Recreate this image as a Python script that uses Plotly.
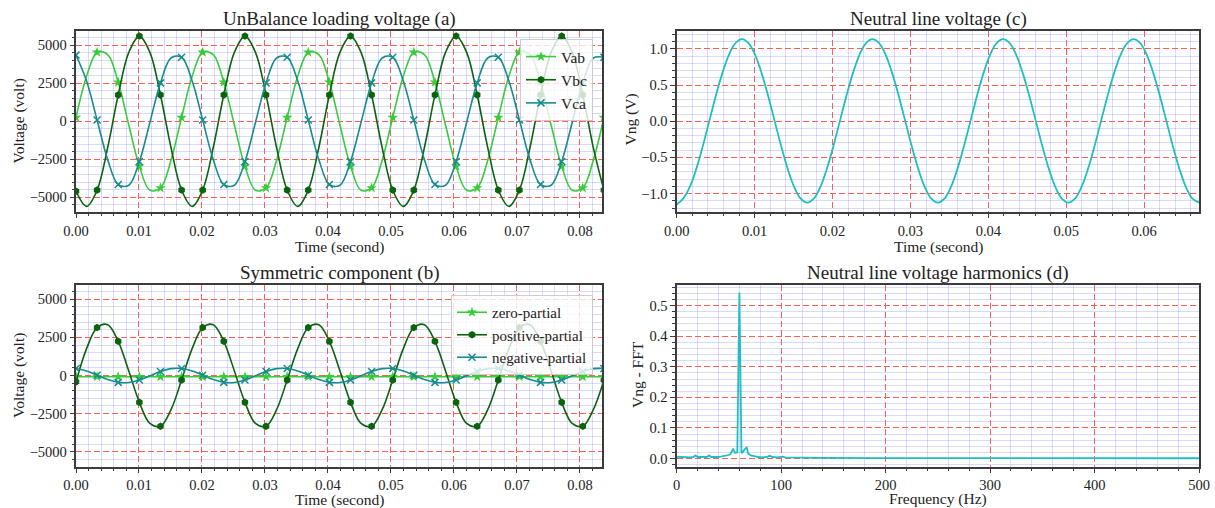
import plotly.graph_objects as go

# ---------------- data ----------------
T = [0.0, 0.00168, 0.00335, 0.00503, 0.0067, 0.00838, 0.01006, 0.01173, 0.01341, 0.01508,
     0.01676, 0.01844, 0.02011, 0.02179, 0.02346, 0.02514, 0.02682, 0.02849, 0.03017, 0.03184,
     0.03352, 0.0352, 0.03687, 0.03855, 0.04022, 0.0419, 0.04358, 0.04525, 0.04693, 0.0486,
     0.05028, 0.05196, 0.05363, 0.05531, 0.05698, 0.05866, 0.06034, 0.06201, 0.06369, 0.06536,
     0.06704, 0.06872, 0.07039, 0.07207, 0.07374, 0.07542, 0.0771, 0.07877, 0.08045, 0.08212,
     0.0838]

vab = [246, 2958, 4540, 4388, 2560, -246, -2958, -4540, -4388, -2560,
       246, 2958, 4540, 4388, 2560, -246, -2958, -4540, -4388, -2560,
       246, 2958, 4540, 4388, 2560, -246, -2958, -4540, -4388, -2560,
       246, 2958, 4540, 4388, 2560, -246, -2958, -4540, -4388, -2560,
       246, 2958, 4540, 4388, 2560, -246, -2958, -4540, -4388, -2560,
       246]
vbc = [-4600, -5600, -4530, -1730, 1730, 4530, 5600, 4530, 1730, -1730,
       -4530, -5600, -4530, -1730, 1730, 4530, 5600, 4530, 1730, -1730,
       -4530, -5600, -4530, -1730, 1730, 4530, 5600, 4530, 1730, -1730,
       -4530, -5600, -4530, -1730, 1730, 4530, 5600, 4530, 1730, -1730,
       -4530, -5600, -4530, -1730, 1730, 4530, 5600, 4530, 1730, -1730,
       -4530]
vca = [4350, 2648, 77, -2524, -4160, -4208, -2648, -77, 2524, 4160,
       4208, 2648, 77, -2524, -4160, -4208, -2648, -77, 2524, 4160,
       4208, 2648, 77, -2524, -4160, -4208, -2648, -77, 2524, 4160,
       4208, 2648, 77, -2524, -4160, -4208, -2648, -77, 2524, 4160,
       4208, 2648, 77, -2524, -4160, -4208, -2648, -77, 2524, 4160,
       4208]

zero_part = [-80, -82, -78, -80, -84, -80, -76, -80, -82, -80,
             -78, -80, -84, -80, -76, -80, -82, -80, -78, -80,
             -84, -80, -76, -80, -82, -80, -78, -80, -84, -80,
             -76, -80, -82, -80, -78, -80, -84, -80, -76, -80,
             -82, -80, -78, -80, -84, -80, -76, -80, -82, -80,
             -78]
pos_part = [-420, 1761, 3148, 3332, 2244, 298, -1761, -3148, -3332, -2244,
            -298, 1761, 3148, 3332, 2244, 298, -1761, -3148, -3332, -2244,
            -298, 1761, 3148, 3332, 2244, 298, -1761, -3148, -3332, -2244,
            -298, 1761, 3148, 3332, 2244, 298, -1761, -3148, -3332, -2244,
            -298, 1761, 3148, 3332, 2244, 298, -1761, -3148, -3332, -2244,
            -298]
neg_part = [461, 296, 17, -268, -451, -461, -296, -17, 268, 451,
            461, 296, 17, -268, -451, -461, -296, -17, 268, 451,
            461, 296, 17, -268, -451, -461, -296, -17, 268, 451,
            461, 296, 17, -268, -451, -461, -296, -17, 268, 451,
            461, 296, 17, -268, -451, -461, -296, -17, 268, 451,
            461]

T_ng = [0.0, 0.00084, 0.00168, 0.00251, 0.00335, 0.00419, 0.00503, 0.00587, 0.0067, 0.00754,
        0.00838, 0.00922, 0.01006, 0.01089, 0.01173, 0.01257, 0.01341, 0.01425, 0.01508, 0.01592,
        0.01676, 0.0176, 0.01844, 0.01927, 0.02011, 0.02095, 0.02179, 0.02263, 0.02346, 0.0243,
        0.02514, 0.02598, 0.02682, 0.02765, 0.02849, 0.02933, 0.03017, 0.03101, 0.03184, 0.03268,
        0.03352, 0.03436, 0.0352, 0.03603, 0.03687, 0.03771, 0.03855, 0.03939, 0.04022, 0.04106,
        0.0419, 0.04274, 0.04358, 0.04441, 0.04525, 0.04609, 0.04693, 0.04777, 0.0486, 0.04944,
        0.05028, 0.05112, 0.05196, 0.05279, 0.05363, 0.05447, 0.05531, 0.05615, 0.05698, 0.05782,
        0.05866, 0.0595, 0.06034, 0.06117, 0.06201, 0.06285, 0.06369, 0.06453, 0.06536, 0.0662,
        0.06704]
vng = [-1.15, -1.070, -0.909, -0.659, -0.344, 0.005, 0.354, 0.669, 0.919, 1.080,
       1.135, 1.080, 0.919, 0.669, 0.354, 0.005, -0.344, -0.659, -0.909, -1.070,
       -1.125, -1.070, -0.909, -0.659, -0.344, 0.005, 0.354, 0.669, 0.919, 1.080,
       1.135, 1.080, 0.919, 0.669, 0.354, 0.005, -0.344, -0.659, -0.909, -1.070,
       -1.125, -1.070, -0.909, -0.659, -0.344, 0.005, 0.354, 0.669, 0.919, 1.080,
       1.135, 1.080, 0.919, 0.669, 0.354, 0.005, -0.344, -0.659, -0.909, -1.070,
       -1.125, -1.070, -0.909, -0.659, -0.344, 0.005, 0.354, 0.669, 0.919, 1.080,
       1.135, 1.080, 0.919, 0.669, 0.354, 0.005, -0.344, -0.659, -0.909, -1.070,
       -1.125]

fft_freq = [0, 2, 4, 7, 10, 13, 16, 18, 20, 23, 26, 29, 31, 33, 36, 39, 42, 45, 48, 51,
            54, 56, 58, 60, 62, 63.5, 65, 67, 68.5, 71, 74, 78, 82, 86, 89, 92, 96, 101,
            104, 110, 120, 130, 140, 200, 300, 400, 500]
fft_val = [0.004, 0.006, 0.005, 0.004, 0.005, 0.004, 0.005, 0.010, 0.005, 0.004,
           0.005, 0.005, 0.010, 0.005, 0.004, 0.005, 0.006, 0.007, 0.010, 0.013,
           0.030, 0.018, 0.020, 0.543, 0.018, 0.022, 0.030, 0.036, 0.016, 0.010,
           0.007, 0.005, 0.004, 0.005, 0.009, 0.005, 0.004, 0.006, 0.004, 0.004,
           0.003, 0.003, 0.002, 0.0015, 0.0012, 0.001, 0.001]

series_a = ["Vab", "Vbc", "Vca"]
series_b = ["zero-partial", "positive-partial", "negative-partial"]

# ---------------- styling ----------------
W, H = 1215, 508
FONT = "Liberation Serif"
TXT = "#222222"
C_LIGHT = "#38cc38"
C_DARK = "#0b630b"
C_TEAL = "#168c8c"
C_CYAN = "#1fbfbf"

XA = [76 / W, 602 / W]
XC = [676.7 / W, 1199 / W]
YT = [1 - 212 / H, 1 - 30.5 / H]
YB = [1 - 466.5 / H, 1 - 284.5 / H]

# minor grid positions (excluding the major ones)
MX_T = [round(i * 0.002, 4) for i in range(0, 43) if i % 5]
MY_V = [i * 500 for i in range(-12, 13) if i % 5]
MY_NG = [round(i * 0.1, 1) for i in range(-12, 13) if i % 5]
MX_F = [i * 20 for i in range(0, 26) if i % 5]
MY_F = [round(i * 0.02, 2) for i in range(-1, 29) if i % 5]

fig = go.Figure()


def add_series(x, y, color, symbol, msize, name, xa, ya, legend):
    fig.add_trace(go.Scatter(x=x, y=y, mode="lines",
                             line=dict(color=color, width=1.6, shape="spline", smoothing=1.0),
                             xaxis=xa, yaxis=ya, showlegend=False, hoverinfo="skip"))
    is_x = symbol.startswith("x")
    mk = dict(symbol=symbol, size=msize, color=color,
              line=dict(color=color, width=1.5 if is_x else 0))
    fig.add_trace(go.Scatter(x=x[::2], y=y[::2], mode="markers", marker=mk,
                             xaxis=xa, yaxis=ya, showlegend=False, hoverinfo="skip"))
    fig.add_trace(go.Scatter(x=[None], y=[None], mode="lines+markers",
                             line=dict(color=color, width=1.6), marker=mk, name=name,
                             xaxis=xa, yaxis=ya, legend=legend))


add_series(T, vab, C_LIGHT, "star", 8, series_a[0], "x", "y", "legend")
add_series(T, vbc, C_DARK, "hexagon", 7.5, series_a[1], "x", "y", "legend")
add_series(T, vca, C_TEAL, "x-thin", 7, series_a[2], "x", "y", "legend")

add_series(T, zero_part, C_LIGHT, "star", 8, series_b[0], "x2", "y2", "legend2")
add_series(T, pos_part, C_DARK, "hexagon", 7.5, series_b[1], "x2", "y2", "legend2")
add_series(T, neg_part, C_TEAL, "x-thin", 7, series_b[2], "x2", "y2", "legend2")

fig.add_trace(go.Scatter(x=T_ng, y=vng, mode="lines",
                         line=dict(color=C_CYAN, width=1.8, shape="spline", smoothing=1.0),
                         xaxis="x3", yaxis="y3", showlegend=False, hoverinfo="skip"))
fig.add_trace(go.Scatter(x=fft_freq, y=fft_val, mode="lines",
                         line=dict(color=C_CYAN, width=1.8),
                         xaxis="x4", yaxis="y4", showlegend=False, hoverinfo="skip"))


def axis(domain, anchor, rng, dtick, minor_vals, fmt):
    return dict(domain=domain, anchor=anchor, range=rng, dtick=dtick, tick0=0,
                tickformat=fmt, showline=True, mirror=True, linecolor="#3c3c3c",
                linewidth=1.5, ticks="outside", ticklen=4.5, tickwidth=1.2,
                tickcolor="#3c3c3c", showgrid=True, gridcolor="#ff5c5c",
                griddash="6px,3px", gridwidth=1, zeroline=False, automargin=False,
                minor=dict(tickmode="array", tickvals=minor_vals, showgrid=True,
                           griddash="solid", gridcolor="rgba(70,70,255,0.2)", gridwidth=1,
                           ticks="outside", ticklen=2.5, tickwidth=1, tickcolor="#3c3c3c"),
                tickfont=dict(family=FONT, size=14.5, color=TXT))


layout = dict(
    width=W, height=H, margin=dict(l=0, r=0, t=0, b=0, pad=0, autoexpand=False),
    paper_bgcolor="white", plot_bgcolor="white",
    xaxis=axis(XA, "y", [0, 0.0835], 0.01, MX_T, ".2f"),
    yaxis=axis(YT, "x", [-5970, 5970], 2500, MY_V, ""),
    xaxis2=axis(XA, "y2", [0, 0.0835], 0.01, MX_T, ".2f"),
    yaxis2=axis(YB, "x2", [-5970, 5970], 2500, MY_V, ""),
    xaxis3=axis(XC, "y3", [0, 0.06704], 0.01, MX_T, ".2f"),
    yaxis3=axis(YT, "x3", [-1.255, 1.255], 0.5, MY_NG, ".1f"),
    xaxis4=axis(XC, "y4", [0, 500], 100, MX_F, ""),
    yaxis4=axis(YB, "x4", [-0.026, 0.569], 0.1, MY_F, ".1f"),
    legend=dict(x=593 / W, y=1 - 39 / H, xanchor="right", yanchor="top",
                bgcolor="rgba(255,255,255,0.8)", bordercolor="#cccccc", borderwidth=1,
                font=dict(family=FONT, size=15.5, color=TXT)),
    legend2=dict(x=593 / W, y=1 - 295 / H, xanchor="right", yanchor="top",
                 bgcolor="rgba(255,255,255,0.8)", bordercolor="#cccccc", borderwidth=1,
                 font=dict(family=FONT, size=15, color=TXT)),
    font=dict(family=FONT, color=TXT),
)
fig.update_layout(**layout)


def text(s, xp, yp, size, angle=0):
    fig.add_annotation(text=s, x=xp / W, y=1 - yp / H, xref="paper", yref="paper",
                       showarrow=False, xanchor="center", yanchor="middle",
                       textangle=angle, font=dict(family=FONT, size=size, color=TXT))


text("UnBalance loading voltage (a)", 339, 18.5, 19)
text("Symmetric component (b)", 339, 273, 19)
text("Neutral line voltage (c)", 938, 18.5, 19)
text("Neutral line voltage harmonics (d)", 938, 273, 19)
text("Time (second)", 339, 247, 15.5)
text("Time (second)", 339, 500, 15.5)
text("Time (second)", 938, 246.5, 15.5)
text("Frequency (Hz)", 938, 499, 15.5)
text("Voltage (volt)", 18.5, 121, 15.5, -90)
text("Voltage (volt)", 18.5, 375.5, 15.5, -90)
text("Vng (V)", 630.5, 120, 15.5, -90)
text("Vng - FFT", 637, 375, 15.5, -90)

fig.write_html("out.html", config={"displayModeBar": False},
               post_script="document.body.style.margin='0';")
